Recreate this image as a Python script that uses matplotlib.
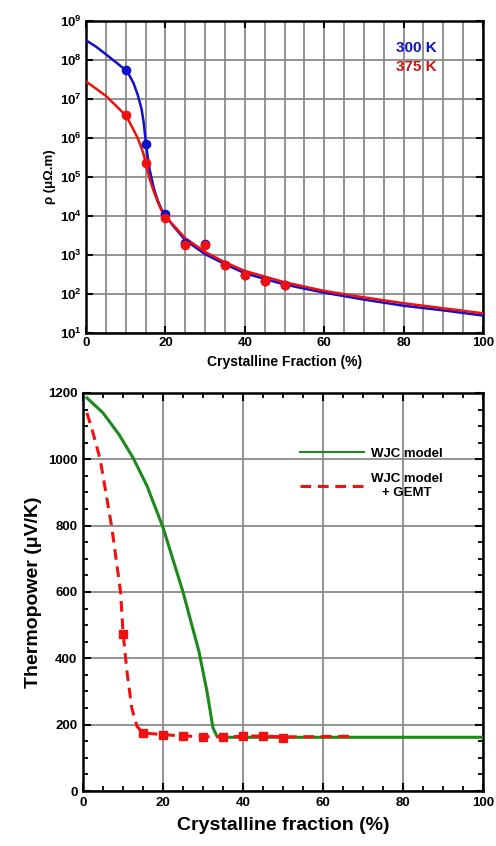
import numpy as np
import matplotlib
matplotlib.use('Agg')
import matplotlib.pyplot as plt
from matplotlib.ticker import MultipleLocator, FixedLocator

plt.rcParams['font.family'] = ['Liberation Sans', 'DejaVu Sans']
plt.rcParams['font.weight'] = 'bold'
plt.rcParams['mathtext.fontset'] = 'custom'
plt.rcParams['mathtext.rm'] = 'Liberation Sans:bold'
plt.rcParams['mathtext.bf'] = 'Liberation Sans:bold'
plt.rcParams['mathtext.default'] = 'bf'

# ---- top panel: resistivity vs crystalline fraction ----
rho_x_curve = [0, 2.5, 5, 7.5, 10, 11, 12, 13, 14, 14.5, 15, 15.5, 16, 17, 18, 19, 20,
               22, 25, 30, 35, 40, 50, 60, 70, 80, 90, 100]
rho_300_curve = [3.2e8, 2.2e8, 1.4e8, 8.8e7, 5.5e7, 3.9e7, 2.5e7, 1.3e7, 5.5e6, 2.6e6, 9.0e5, 3.5e5, 1.6e5,
                 5.5e4, 2.6e4, 1.5e4, 1.05e4, 5.5e3, 2.4e3, 1.05e3, 5.8e2, 3.4e2, 1.75e2, 1.08e2, 72, 50, 38, 28]
rho_375_curve = [2.8e7, 1.85e7, 1.2e7, 6.8e6, 3.8e6, 2.5e6, 1.6e6, 1.0e6, 5.5e5, 3.8e5, 2.4e5, 1.45e5, 9.0e4,
                 4.5e4, 2.4e4, 1.4e4, 9.5e3, 5.8e3, 2.7e3, 1.2e3, 6.5e2, 3.9e2, 2.0e2, 1.2e2, 82, 58, 43, 32]

rho_x_pts = [10, 15, 20, 25, 30, 35, 40, 45, 50]
rho_300_pts = [5.5e7, 7.0e5, 1.1e4, 2.0e3, 1.9e3, 5.5e2, 3.0e2, 2.1e2, 1.7e2]
rho_375_pts = [4.0e6, 2.3e5, 9.0e3, 1.8e3, 1.8e3, 5.5e2, 3.0e2, 2.1e2, 1.7e2]
decades = list(range(1, 10))

# ---- bottom panel: thermopower ----
wjc_x = [1, 5, 9, 12.5, 16, 20, 25, 29, 31, 32.5, 33.5, 35, 40, 60, 80, 100]
wjc_y = [1185, 1140, 1075, 1005, 920, 795, 600, 420, 300, 190, 165, 162, 162, 162, 162, 162]

gemt_x = [1, 2.5, 4.3, 7.2, 9.4, 10, 11, 12.2, 13.5, 15, 20, 25, 30, 35, 40, 45, 50, 67]
gemt_y = [1140, 1080, 1000, 795, 600, 480, 360, 250, 195, 175, 170, 166, 164, 163, 165, 166, 163, 165]
gemt_pts_x = [10, 15, 20, 25, 30, 35, 40, 45, 50]
gemt_pts_y = [474, 175, 170, 165, 163, 163, 167, 167, 161]

fig = plt.figure(figsize=(4.96, 8.46), dpi=100)

ax1 = fig.add_axes([0.1734, 0.6064, 0.8004, 0.3688])
ax1.set_yscale('log')
ax1.plot(rho_x_curve, rho_300_curve, color='#1010c8', lw=1.8, zorder=3)
ax1.plot(rho_x_curve, rho_375_curve, color='#f01010', lw=1.8, zorder=4)
ax1.plot(rho_x_pts, rho_300_pts, 'o', color='#1010c8', ms=6, zorder=5)
ax1.plot(rho_x_pts, rho_375_pts, 'o', color='#f01010', ms=6, zorder=6)
ax1.set_xlim(0, 100)
ax1.set_ylim(10, 1e9)
ax1.xaxis.set_major_locator(MultipleLocator(20))
ax1.xaxis.set_minor_locator(MultipleLocator(5))
ax1.yaxis.set_major_locator(FixedLocator([10.0**k for k in decades]))
ax1.yaxis.set_minor_locator(FixedLocator([]))
ax1.set_yticklabels([r'$10^{%d}$' % k for k in decades])
ax1.grid(True, which='both', color='#8a8a8a', lw=1.3)
ax1.grid(False, which='minor', axis='y')
ax1.tick_params(which='major', direction='in', top=True, right=True, length=5, width=1.5, labelsize=9.5, pad=3)
ax1.tick_params(which='minor', direction='in', top=True, length=0)
for s in ax1.spines.values():
    s.set_linewidth(1.8)
ax1.set_xlabel('Crystalline Fraction (%)', fontsize=10, fontweight='bold', labelpad=4)
ax1.set_ylabel('ρ (μΩ.m)', fontsize=9.5, fontweight='bold', labelpad=3)
ax1.text(0.78, 0.913, '300 K', color='#1010c8', transform=ax1.transAxes, fontsize=11, fontweight='bold', ha='left', va='center')
ax1.text(0.78, 0.853, '375 K', color='#d01010', transform=ax1.transAxes, fontsize=11, fontweight='bold', ha='left', va='center')

ax2 = fig.add_axes([0.1673, 0.0650, 0.8065, 0.4705])
ax2.plot(wjc_x, wjc_y, color='#1a8a1a', lw=2.2, label='WJC model', zorder=3)
ax2.plot(gemt_x, gemt_y, color='#f01010', lw=2.2, ls=(0, (3.5, 2.2)), label='WJC model\n+ GEMT', zorder=4)
ax2.plot(gemt_pts_x, gemt_pts_y, 's', color='#f01010', ms=6, zorder=5)
ax2.set_xlim(0, 100)
ax2.set_ylim(0, 1200)
ax2.xaxis.set_major_locator(MultipleLocator(20))
ax2.xaxis.set_minor_locator(MultipleLocator(5))
ax2.yaxis.set_major_locator(MultipleLocator(200))
ax2.yaxis.set_minor_locator(MultipleLocator(50))
ax2.grid(True, which='major', color='#8a8a8a', lw=1.3)
ax2.tick_params(which='major', direction='in', top=True, right=True, length=6, width=1.5, labelsize=9.5, pad=4)
ax2.tick_params(which='minor', direction='in', top=True, right=True, length=3.5, width=1.3)
for s in ax2.spines.values():
    s.set_linewidth(1.8)
ax2.set_xlabel('Crystalline fraction (%)', fontsize=14, fontweight='bold', labelpad=6)
ax2.set_ylabel('Thermopower (μV/K)', fontsize=14, fontweight='bold', labelpad=4)
leg = ax2.legend(loc='upper left', bbox_to_anchor=(0.527, 0.88), frameon=False, fontsize=9.5,
                 handlelength=4.8, handletextpad=0.55, labelspacing=1.0, borderpad=0)
for t in leg.get_texts():
    t.set_multialignment('center')
leg.get_lines()[0].set_linewidth(1.5)

fig.savefig('out.png', dpi=100)
